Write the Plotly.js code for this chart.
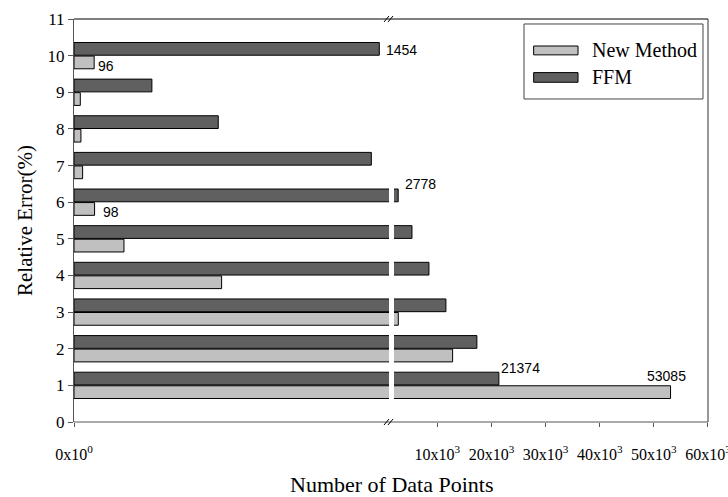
<!DOCTYPE html>
<html>
<head>
<meta charset="utf-8">
<script src="https://cdn.plot.ly/plotly-3.0.1.min.js"></script>
<style>html,body{margin:0;padding:0;background:#fff;}#chart{width:728px;height:497px;}</style>
</head>
<body>
<div id="chart"></div>
<script>
// ---- data ----
const categories = [1, 2, 3, 4, 5, 6, 7, 8, 9, 10];
const newMethod = [53085, 12830, 2800, 703, 238, 98, 41, 33, 30, 96];
const ffm = [21374, 17313, 11594, 8458, 5321, 2778, 1416, 687, 371, 1454];
const seriesNames = ['New Method', 'FFM'];
const yTickVals = [0, 1, 2, 3, 4, 5, 6, 7, 8, 9, 10, 11];
const leftTickVals = [0];
const leftTickText = ['0x10<sup>0</sup>'];
const rightTickVals = [10000, 20000, 30000, 40000, 50000, 60000];
const rightTickText = ['10x10<sup>3</sup>', '20x10<sup>3</sup>', '30x10<sup>3</sup>', '40x10<sup>3</sup>', '50x10<sup>3</sup>', '60x10<sup>3</sup>'];
// labelled bars: [series index, category]
const labelled = [[1, 10], [0, 10], [0, 6], [1, 6], [1, 1], [0, 1]];

// ---- styling ----
const LIGHT = '#c0c0c0', DARK = '#606060', AX = '#555555';
const SERIF = "'Liberation Serif'";
const SANS = "'Liberation Sans'";
const BREAK_LEFT = 1500, BREAK_RIGHT = 2000;
const seriesData = [newMethod, ffm];
const seriesColors = [LIGHT, DARK];

const traces = [];
['x', 'x2'].forEach(xa => {
  seriesData.forEach((vals, i) => {
    traces.push({
      type: 'bar', orientation: 'h', name: seriesNames[i],
      x: vals, y: categories, xaxis: xa, yaxis: 'y',
      marker: {color: seriesColors[i], line: {color: '#000', width: 1}},
      showlegend: false, hoverinfo: 'skip'
    });
  });
});

// label placements (pixel nudges)
const place = {
  '1,10': {xanchor: 'left', xshift: 5, yshift: -1},
  '0,10': {xanchor: 'left', xshift: 2, yshift: -4},
  '0,6': {xanchor: 'left', xshift: 6, yshift: -3},
  '1,6': {xanchor: 'left', xshift: 5, yshift: 11},
  '1,1': {xanchor: 'left', xshift: 0, yshift: 11},
  '0,1': {xanchor: 'right', xshift: 17, yshift: 16}
};
const annotations = labelled.map(([s, c]) => {
  const v = seriesData[s][categories.indexOf(c)];
  const p = place[s + ',' + c];
  return {
    x: v, y: c + (s === 1 ? 0.185 : -0.185),
    xref: v > BREAK_LEFT ? 'x2' : 'x', yref: 'y',
    text: String(v), showarrow: false,
    xanchor: p.xanchor, yanchor: 'middle', xshift: p.xshift, yshift: p.yshift,
    font: {family: SANS, size: 14, color: '#000'}
  };
});
annotations.push({
  x: 0.5, y: -0.155, xref: 'paper', yref: 'paper', showarrow: false,
  text: 'Number of Data Points', xanchor: 'center', yanchor: 'middle',
  font: {family: SERIF, size: 22, color: '#000'}
});
// legend
const legTextX = 0.814;
annotations.push({x: legTextX, y: 0.922, xref: 'paper', yref: 'paper', showarrow: false,
  text: seriesNames[0], xanchor: 'left', yanchor: 'middle', font: {family: SERIF, size: 20, color: '#000'}});
annotations.push({x: legTextX, y: 0.856, xref: 'paper', yref: 'paper', showarrow: false,
  text: seriesNames[1], xanchor: 'left', yanchor: 'middle', font: {family: SERIF, size: 20, color: '#000'}});

const slash = 'M-7,-3 L-2,3 M-3,-3 L2,3';
const shapes = [
  {type: 'line', xref: 'paper', yref: 'paper', x0: 0, x1: 1, y0: 0, y1: 0, line: {color: AX, width: 1}},
  {type: 'line', xref: 'paper', yref: 'paper', x0: 0, x1: 1, y0: 1, y1: 1, line: {color: '#000', width: 1}},
  {type: 'line', xref: 'paper', yref: 'paper', x0: 1, x1: 1, y0: 0, y1: 1, line: {color: '#333', width: 1}},
  {type: 'path', xref: 'paper', yref: 'paper', xsizemode: 'pixel', ysizemode: 'pixel', xanchor: 0.5, yanchor: 0, path: slash, line: {color: '#000', width: 1}},
  {type: 'path', xref: 'paper', yref: 'paper', xsizemode: 'pixel', ysizemode: 'pixel', xanchor: 0.5, yanchor: 1, path: slash, line: {color: '#000', width: 1}},
  // legend box
  {type: 'rect', xref: 'paper', yref: 'paper', x0: 0.7098, x1: 0.9921, y0: 0.8015, y1: 0.9876, line: {color: '#444', width: 1}, fillcolor: '#fff'},
  {type: 'rect', xref: 'paper', yref: 'paper', x0: 0.725, x1: 0.795, y0: 0.911, y1: 0.933, line: {color: '#000', width: 1}, fillcolor: LIGHT},
  {type: 'rect', xref: 'paper', yref: 'paper', x0: 0.725, x1: 0.795, y0: 0.843, y1: 0.867, line: {color: '#000', width: 1}, fillcolor: DARK}
];

const tickFont = {family: SERIF, size: 16, color: '#000'};
const layout = {
  width: 728, height: 497,
  margin: {l: 74, r: 20, t: 19, b: 75, pad: 0},
  paper_bgcolor: '#fff', plot_bgcolor: '#fff',
  barmode: 'group', bargap: 0.26, bargroupgap: 0.06,
  showlegend: false,
  xaxis: {domain: [0, 0.4968], range: [0, BREAK_LEFT], tickvals: leftTickVals, ticktext: leftTickText,
    ticks: 'outside', ticklen: 4, tickcolor: AX, showline: false, showgrid: false, zeroline: false,
    tickfont: tickFont, ticklabelstandoff: 14, ticklabeloverflow: 'allow', fixedrange: true},
  xaxis2: {domain: [0.5047, 1], range: [BREAK_RIGHT, 60000], anchor: 'y', tickvals: rightTickVals, ticktext: rightTickText,
    ticks: 'outside', ticklen: 4, tickcolor: AX, showline: false, showgrid: false, zeroline: false,
    tickfont: tickFont, ticklabelstandoff: 14, ticklabeloverflow: 'allow', fixedrange: true},
  yaxis: {range: [0, 11], tickvals: yTickVals, ticks: 'outside', ticklen: 5, tickcolor: AX,
    showline: true, linecolor: AX, linewidth: 1, showgrid: false, zeroline: false,
    tickfont: {family: SERIF, size: 17, color: '#000'},
    title: {text: 'Relative Error(%)', font: {family: SERIF, size: 21, color: '#000'}, standoff: 9},
    fixedrange: true},
  shapes: shapes,
  annotations: annotations
};
Plotly.newPlot('chart', traces, layout, {displayModeBar: false, staticPlot: true});
</script>
</body>
</html>
